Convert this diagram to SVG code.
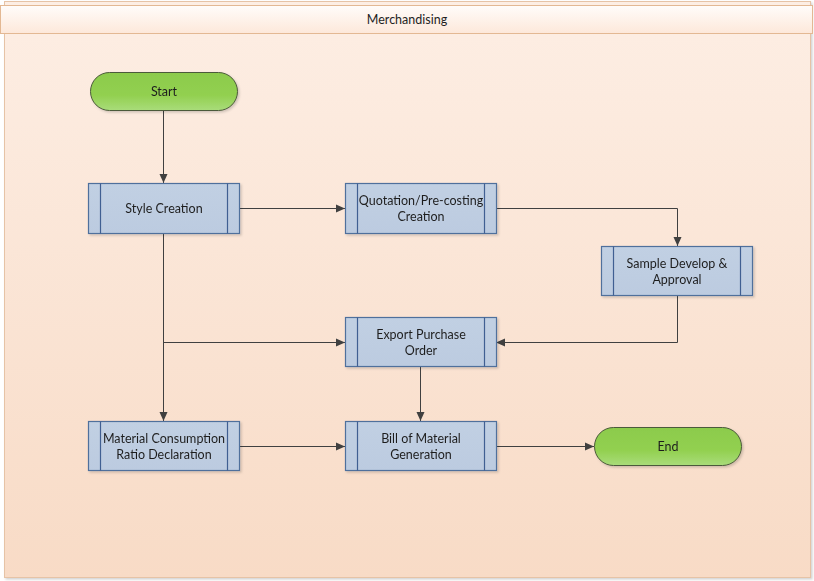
<svg xmlns="http://www.w3.org/2000/svg" width="814" height="581" viewBox="0 0 814 581">
  <defs>
    <linearGradient id="poolFill" x1="0" y1="0" x2="0" y2="1">
      <stop offset="0" stop-color="#fdeee4"/>
      <stop offset="1" stop-color="#f8dbc6"/>
    </linearGradient>
    <linearGradient id="headFill" x1="0" y1="0" x2="0" y2="1">
      <stop offset="0" stop-color="#fffcfa"/>
      <stop offset="1" stop-color="#fde8da"/>
    </linearGradient>
    <linearGradient id="termFill" x1="0" y1="0" x2="0" y2="1">
      <stop offset="0" stop-color="#8ccb4c"/>
      <stop offset="0.6" stop-color="#92d050"/>
      <stop offset="1" stop-color="#a9dc7a"/>
    </linearGradient>
    <linearGradient id="procFill" x1="0" y1="0" x2="0" y2="1">
      <stop offset="0" stop-color="#c1d0e3"/>
      <stop offset="1" stop-color="#bccbe0"/>
    </linearGradient>
    <marker id="arrow" markerWidth="10" markerHeight="10" refX="9" refY="5" orient="auto" markerUnits="userSpaceOnUse">
      <path d="M0,1 L9,5 L0,9 Z" fill="#404040"/>
    </marker>
    <filter id="shadow" x="-5%" y="-5%" width="110%" height="115%">
      <feDropShadow dx="1.5" dy="1.5" stdDeviation="1" flood-color="#000" flood-opacity="0.18"/>
    </filter>
  </defs>
  <style>
    .label { font-family: "Lato", "Liberation Sans", sans-serif; font-size: 12.5px; fill: #1f1f1f; text-anchor: middle; dominant-baseline: central; }
    .proc { fill: url(#procFill); stroke: #4f6f9c; stroke-width: 1.2; }
    .bar { stroke: #3f5f92; stroke-width: 1.2; }
    .term { fill: url(#termFill); stroke: #4b5a3a; stroke-width: 1; }
    .conn { fill: none; stroke: #404040; stroke-width: 1; marker-end: url(#arrow); }
    .plain { fill: none; stroke: #404040; stroke-width: 1; }
  </style>

  <!-- swimlane pool -->
  <g id="pool">
    <rect x="4.5" y="1.5" width="806" height="576" fill="url(#poolFill)" stroke="#e6c3a6" stroke-width="1" filter="url(#shadow)"/>
    <rect x="0.5" y="5.5" width="812" height="28" fill="url(#headFill)" stroke="#e3b893" stroke-width="1"/>
    <text class="label" x="407" y="19">Merchandising</text>
  </g>

  <!-- connectors -->
  <g id="connectors">
    <path class="conn" d="M163.5,110 V183"/>
    <path class="conn" d="M239,208.5 H345"/>
    <path class="conn" d="M496,208.5 H677.5 V246"/>
    <path class="conn" d="M677.5,296 V342.5 H496"/>
    <path class="conn" d="M163.5,233 V421"/>
    <path class="conn" d="M163.5,342.5 H345"/>
    <path class="conn" d="M420.5,367 V421"/>
    <path class="conn" d="M239,446.5 H345"/>
    <path class="conn" d="M496,446.5 H594"/>
  </g>

  <g id="start" filter="url(#shadow)">
    <rect class="term" x="90.5" y="72.5" width="147" height="38" rx="19" ry="19"/>
    <text class="label" x="164" y="91.5">Start</text>
  </g>

  <g id="style-creation" filter="url(#shadow)">
    <rect class="proc" x="88.5" y="183.5" width="151" height="50"/>
    <line class="bar" x1="100.5" y1="183.5" x2="100.5" y2="233.5"/>
    <line class="bar" x1="227.5" y1="183.5" x2="227.5" y2="233.5"/>
    <text class="label" x="164" y="208.5">Style Creation</text>
  </g>

  <g id="quotation" filter="url(#shadow)">
    <rect class="proc" x="345.5" y="183.5" width="151" height="50"/>
    <line class="bar" x1="357.5" y1="183.5" x2="357.5" y2="233.5"/>
    <line class="bar" x1="484.5" y1="183.5" x2="484.5" y2="233.5"/>
    <text class="label" x="421" y="200.5">Quotation/Pre-costing</text>
    <text class="label" x="421" y="216.5">Creation</text>
  </g>

  <g id="sample" filter="url(#shadow)">
    <rect class="proc" x="601.5" y="246.5" width="151" height="49"/>
    <line class="bar" x1="613.5" y1="246.5" x2="613.5" y2="295.5"/>
    <line class="bar" x1="740.5" y1="246.5" x2="740.5" y2="295.5"/>
    <text class="label" x="677" y="263">Sample Develop &amp;</text>
    <text class="label" x="677" y="279">Approval</text>
  </g>

  <g id="export-po" filter="url(#shadow)">
    <rect class="proc" x="345.5" y="317.5" width="151" height="49"/>
    <line class="bar" x1="357.5" y1="317.5" x2="357.5" y2="366.5"/>
    <line class="bar" x1="484.5" y1="317.5" x2="484.5" y2="366.5"/>
    <text class="label" x="421" y="334">Export Purchase</text>
    <text class="label" x="421" y="350">Order</text>
  </g>

  <g id="material-consumption" filter="url(#shadow)">
    <rect class="proc" x="88.5" y="421.5" width="151" height="49"/>
    <line class="bar" x1="100.5" y1="421.5" x2="100.5" y2="470.5"/>
    <line class="bar" x1="227.5" y1="421.5" x2="227.5" y2="470.5"/>
    <text class="label" x="164" y="438">Material Consumption</text>
    <text class="label" x="164" y="454">Ratio Declaration</text>
  </g>

  <g id="bill-of-material" filter="url(#shadow)">
    <rect class="proc" x="345.5" y="421.5" width="151" height="49"/>
    <line class="bar" x1="357.5" y1="421.5" x2="357.5" y2="470.5"/>
    <line class="bar" x1="484.5" y1="421.5" x2="484.5" y2="470.5"/>
    <text class="label" x="421" y="438">Bill of Material</text>
    <text class="label" x="421" y="454">Generation</text>
  </g>

  <g id="end" filter="url(#shadow)">
    <rect class="term" x="594.5" y="427.5" width="147" height="38" rx="19" ry="19"/>
    <text class="label" x="668" y="446.5">End</text>
  </g>
</svg>
